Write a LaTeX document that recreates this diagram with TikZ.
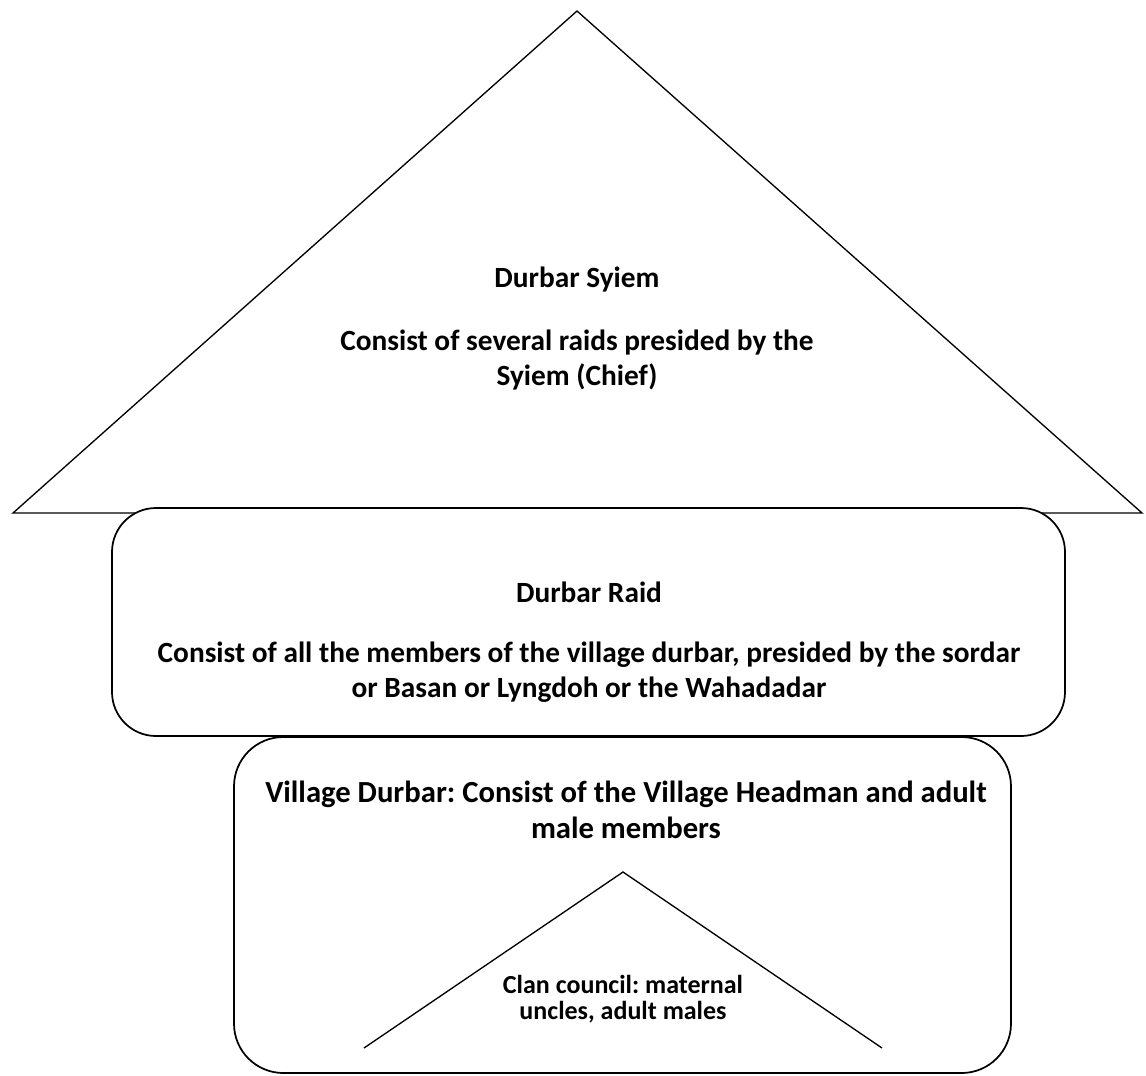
\documentclass[tikz,border=0pt]{standalone}
\usepackage{fontspec}
\setmainfont{Carlito}
\usetikzlibrary{positioning}
\tikzset{
    roof/.style = {draw=black, line width=1pt, line join=miter},
    tier/.style = {draw=black, fill=white, line width=1.3pt, inner sep=0pt},
    bigtext/.style = {align=center, inner sep=0pt, font=\bfseries\frenchspacing\fontsize{22}{26.25}\selectfont},
    midtext/.style = {align=center, inner sep=0pt, font=\bfseries\frenchspacing\fontsize{23}{26.5}\selectfont},
    smalltext/.style = {align=center, inner sep=0pt, font=\bfseries\frenchspacing\fontsize{19.5}{20}\selectfont},
}
\begin{document}
\begin{tikzpicture}[x=0.75pt, y=-0.75pt]
  \useasboundingbox (0,0) rectangle (1146,1075);
  % the chief's durbar, roof of the house
  \coordinate (roof top) at (577,11);
  \coordinate (roof left) at (13,513);
  \coordinate (roof right) at (1142,513);
  \draw[roof] (roof left) -- (roof top) -- (roof right) -- cycle;
  \node[bigtext] (syiem) at (577,280) {Durbar Syiem};
  \node[bigtext] (syiemtxt) at (577,360) {Consist of several raids presided by the\\Syiem (Chief)};
  % raid level
  \node[tier, rounded corners=33pt, minimum width=714.75pt, minimum height=171pt] (raid) at (588.5,622) {};
  \node[bigtext] (raidname) at (589,592) {Durbar Raid};
  \node[bigtext] (raidtxt) at (589,672) {Consist of all the members of the village durbar, presided by the sordar\\or Basan or Lyngdoh or the Wahadadar};
  % village level
  \node[tier, rounded corners=37pt, minimum width=582.75pt, minimum height=252pt] (village) at (622.5,905) {};
  \node[midtext] (villagetxt) at (626,810) {Village Durbar: Consist of the Village Headman and adult\\male members};
  % clan council
  \coordinate (clan top) at (623,872);
  \coordinate (clan left) at (364,1048);
  \coordinate (clan right) at (882,1048);
  \draw[roof] (clan left) -- (clan top) -- (clan right);
  \node[smalltext] (clan) at (623,999) {Clan council: maternal\\uncles, adult males};
\end{tikzpicture}
\end{document}
